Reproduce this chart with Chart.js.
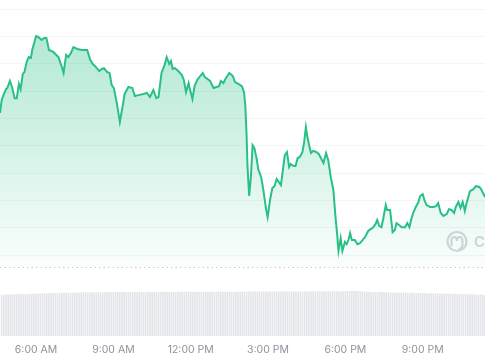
<!DOCTYPE html>
<html>
<head>
<meta charset="utf-8">
<title>Price chart</title>
<script src="https://cdn.jsdelivr.net/npm/chart.js@4.4.1/dist/chart.umd.min.js"></script>
<style>
    html, body { margin: 0; padding: 0; background: #ffffff; }
    #chart_wrapper { position: relative; width: 485px; height: 360px; }
</style>
</head>
<body>
<div id="chart_wrapper"><canvas id="chart"></canvas></div>
<script>
/*jslint browser: true*/
/*global Chart*/

// price line: minutes since midnight / price (grid units)
var priceTimes = [276, 280, 284, 290, 293, 299, 304, 310, 315, 320, 324, 329, 333, 338, 343, 348, 351, 360, 365, 373,
    379, 384, 390, 400, 412, 420, 424, 430, 435, 441, 447, 456, 466, 479, 486, 492, 497, 507, 513, 518,
    525, 531, 536, 541, 548, 555, 562, 566, 575, 584, 590, 598, 610, 618, 625, 633, 640, 645, 652, 659,
    664, 670, 674, 678, 683, 691, 699, 704, 709, 715, 718, 724, 729, 735, 742, 748, 753, 765, 773, 780,
    786, 790, 796, 802, 810, 818, 823, 831, 839, 844, 847, 850, 852, 856, 860, 864, 868, 874, 877, 884,
    889, 895, 899, 905, 910, 915, 920, 925, 930, 935, 939, 944, 949, 953, 959, 964, 969, 974, 980, 984,
    988, 992, 996, 1000, 1005, 1012, 1018, 1023, 1029, 1035, 1040, 1046, 1052, 1057, 1061, 1064, 1069, 1073, 1079, 1083,
    1087, 1091, 1095, 1102, 1108, 1114, 1120, 1126, 1133, 1139, 1145, 1150, 1154, 1159, 1164, 1168, 1174, 1177, 1184, 1190,
    1195, 1199, 1205, 1211, 1219, 1224, 1229, 1234, 1238, 1244, 1250, 1254, 1260, 1264, 1269, 1277, 1285, 1291, 1296, 1302,
    1308, 1316, 1321, 1327, 1333, 1337, 1343, 1348, 1353, 1358, 1362, 1370, 1378, 1384, 1392, 1397, 1405];

var priceValues = [5.20, 5.67, 5.85, 6.07, 6.11, 6.37, 6.15, 5.74, 5.74, 6.26, 6.07, 6.62, 6.70, 7.06, 7.24, 7.21, 7.50, 8.01, 7.98, 7.87,
    7.94, 7.94, 7.50, 7.43, 7.24, 6.88, 6.66, 7.32, 7.24, 7.39, 7.61, 7.54, 7.50, 7.50, 7.14, 6.99, 6.92, 6.73, 6.81, 6.84,
    6.70, 6.66, 6.22, 6.11, 5.56, 4.87, 5.49, 5.89, 6.15, 6.11, 5.82, 5.85, 5.89, 5.93, 5.78, 6.04, 5.74, 5.78, 6.66, 6.95,
    7.24, 6.99, 7.10, 6.81, 6.84, 6.73, 6.59, 6.40, 5.96, 6.29, 6.07, 5.71, 6.18, 6.40, 6.55, 6.66, 6.51, 6.37, 6.11, 6.15,
    6.18, 6.37, 6.29, 6.48, 6.66, 6.55, 6.33, 6.26, 6.18, 5.96, 5.49, 4.39, 3.29, 2.16, 2.85, 4.02, 3.92, 3.48, 3.15, 2.85,
    2.38, 1.72, 1.39, 2.05, 2.45, 2.52, 2.78, 2.67, 2.56, 3.18, 3.66, 3.77, 3.22, 3.33, 3.26, 3.26, 3.55, 3.59, 3.77, 4.13,
    4.68, 4.28, 3.99, 3.73, 3.81, 3.77, 3.70, 3.55, 3.37, 3.73, 3.48, 2.85, 2.38, 1.39, 0.73, 0.15, 0.62, 0.15, 0.48, 0.40,
    0.55, 0.80, 0.55, 0.55, 0.40, 0.44, 0.55, 0.66, 0.88, 0.95, 1.02, 1.13, 1.28, 1.06, 1.02, 1.32, 1.83, 1.65, 1.65, 0.84,
    0.91, 1.17, 1.10, 1.02, 1.02, 1.17, 1.02, 1.35, 1.54, 1.76, 1.94, 2.16, 2.23, 2.01, 1.83, 1.76, 1.76, 1.79, 1.90, 1.54,
    1.43, 1.50, 1.68, 1.65, 1.54, 1.76, 1.94, 1.72, 1.94, 1.61, 1.90, 2.34, 2.41, 2.52, 2.49, 2.38, 2.12];

// volume bars, one every 5 minutes from 4:40 AM
var volumeStart = 280;
var volumeStep = 5;
var volumeValues = [20.5, 20.5, 20.6, 20.6, 20.6, 20.7, 20.7, 20.7, 20.8, 20.8, 20.8, 20.9, 20.9, 20.9, 21.0, 21.0,
    21.0, 21.1, 21.1, 21.1, 21.2, 21.2, 21.2, 21.3, 21.3, 21.3, 21.4, 21.4, 21.4, 21.5, 21.5, 21.5, 21.5, 21.6, 21.6, 21.6, 21.6, 21.7, 21.7,
    21.7, 21.7, 21.7, 21.7, 21.7, 21.7, 21.7, 21.7, 21.7, 21.7,
    21.8, 21.8, 21.8, 21.8, 21.8, 21.8, 21.8, 21.8, 21.8, 21.8, 21.8, 21.8, 21.8, 21.8, 21.8,
    21.9, 21.9, 21.9, 21.9, 21.9, 21.9, 21.9, 21.9, 21.9, 21.9,
    21.9, 21.9, 21.9, 21.9, 21.9, 21.9, 21.9, 21.9, 21.9, 21.9,
    22.0, 22.0, 22.0, 22.0, 22.0, 22.0, 22.0, 22.0, 22.0, 22.0, 22.0, 22.0, 22.0, 22.0, 22.0,
    22.0, 22.0, 22.0, 22.0, 22.0, 22.0, 22.0, 22.0, 22.0, 22.0, 22.0, 22.0, 22.0, 22.0, 22.0,
    22.1, 22.1, 22.1, 22.1, 22.1, 22.1, 22.1, 22.1, 22.1, 22.1, 22.1, 22.1, 22.1, 22.1, 22.1,
    22.1, 22.1, 22.1, 22.1, 22.1, 22.1, 22.1, 22.1, 22.1, 22.1, 22.1, 22.1, 22.1, 22.1, 22.1,
    22.2, 22.2, 22.2, 22.2, 22.2, 22.2, 22.2,
    22.2, 22.2, 22.2, 22.2, 22.2, 22.2, 22.2, 22.2, 22.3, 22.3, 22.3, 22.3, 22.3, 22.3, 22.3, 22.3,
    22.2, 22.1, 22.0, 21.9, 21.9, 21.8, 21.8, 21.8, 21.8, 21.8,
    21.7, 21.7, 21.7, 21.7, 21.6, 21.6, 21.6, 21.6, 21.5, 21.5, 21.5, 21.5, 21.4, 21.4, 21.4, 21.4, 21.3, 21.3, 21.3, 21.3, 21.3, 21.2, 21.2,
    21.2, 21.2, 21.1, 21.1, 21.1, 21.0, 21.0, 21.0, 21.0, 20.9, 20.9, 20.9, 20.8, 20.8, 20.8, 20.8, 20.7, 20.7, 20.7, 20.7, 20.6, 20.6, 20.6, 20.6, 20.5, 20.5];

var gridValues = [0, 1, 2, 3, 4, 5, 6, 7, 8, 9];
var tickMinutes = [360, 540, 720, 900, 1080, 1260];

var timeMin = 276;
var timeMax = 1405;
var priceMin = -2.96;
var priceMax = 9.33;
var paneBottom = -0.44;
var volumeMax = 168;

var lineColor = "#29c086";

function timeLabel(minutes) {
    "use strict";
    var h = Math.floor(minutes / 60),
        m = minutes % 60,
        suffix = h >= 12 ? "PM" : "AM",
        h12 = h % 12 || 12;
    return h12 + ":" + (m < 10 ? "0" : "") + m + " " + suffix;
}

function fillGradient(context) {
    "use strict";
    var chart = context.chart,
        area = chart.chartArea,
        bottom,
        g;
    if (!area) {
        return "rgba(41, 192, 134, 0.15)";
    }
    bottom = chart.scales.y.getPixelForValue(paneBottom);
    g = chart.ctx.createLinearGradient(0, area.top, 0, bottom);
    g.addColorStop(0, "rgba(41, 192, 134, 0.40)");
    g.addColorStop(0.5, "rgba(41, 192, 134, 0.22)");
    g.addColorStop(1, "rgba(41, 192, 134, 0.02)");
    return g;
}

// dotted divider between price and volume, plus the faint watermark
var paneDivider = {
    id: "paneDivider",
    beforeDatasetsDraw: function (chart) {
        "use strict";
        var ctx = chart.ctx,
            area = chart.chartArea,
            y = Math.round(chart.scales.y.getPixelForValue(paneBottom)) + 0.5,
            cx = area.right - 28,
            cy = y - 26;

        ctx.save();
        ctx.setLineDash([1.5, 3]);
        ctx.strokeStyle = "#c6cad1";
        ctx.lineWidth = 1;
        ctx.beginPath();
        ctx.moveTo(area.left, y);
        ctx.lineTo(area.right, y);
        ctx.stroke();

        ctx.setLineDash([]);
        ctx.strokeStyle = "#d4d7dc";
        ctx.lineWidth = 2.2;
        ctx.beginPath();
        ctx.arc(cx, cy, 9.5, 0, Math.PI * 2);
        ctx.stroke();
        ctx.beginPath();
        ctx.moveTo(cx - 5.5, cy + 5);
        ctx.lineTo(cx - 5.5, cy - 0.5);
        ctx.quadraticCurveTo(cx - 5.5, cy - 4.5, cx - 2.7, cy - 4.5);
        ctx.quadraticCurveTo(cx, cy - 4.5, cx, cy - 0.5);
        ctx.quadraticCurveTo(cx, cy - 4.5, cx + 2.7, cy - 4.5);
        ctx.quadraticCurveTo(cx + 5.5, cy - 4.5, cx + 5.5, cy);
        ctx.lineTo(cx + 5.5, cy + 3);
        ctx.quadraticCurveTo(cx + 5.5, cy + 7.5, cx + 1, cy + 8);
        ctx.stroke();

        ctx.fillStyle = "#d4d7dc";
        ctx.font = "600 15px Inter";
        ctx.textBaseline = "middle";
        ctx.fillText("CoinGecko", cx + 17, cy + 1);
        ctx.restore();
    }
};

var lineData = priceTimes.map(function (t, i) {
    "use strict";
    return {x: t, y: priceValues[i]};
});

var volumeData = volumeValues.map(function (v, i) {
    "use strict";
    return {x: volumeStart + i * volumeStep, y: v};
});

var options = {
    responsive: true,
    maintainAspectRatio: false,
    animation: false,
    layout: {padding: 0},
    plugins: {
        legend: {display: false},
        tooltip: {enabled: false}
    },
    scales: {
        x: {
            type: "linear",
            min: timeMin,
            max: timeMax,
            offset: false,
            afterBuildTicks: function (axis) {
                "use strict";
                axis.ticks = tickMinutes.map(function (v) {
                    return {value: v};
                });
            },
            afterFit: function (axis) {
                "use strict";
                axis.height = 24;
            },
            grid: {display: false, drawTicks: false},
            border: {display: false},
            ticks: {
                autoSkip: false,
                maxRotation: 0,
                padding: 8,
                color: "#8e939c",
                font: {family: "Inter", size: 10.5},
                callback: function (v) {
                    "use strict";
                    return timeLabel(v);
                }
            }
        },
        y: {
            type: "linear",
            min: priceMin,
            max: priceMax,
            afterBuildTicks: function (axis) {
                "use strict";
                axis.ticks = gridValues.map(function (v) {
                    return {value: v};
                });
            },
            grid: {color: "rgba(0, 0, 0, 0.04)", drawTicks: false},
            border: {display: false},
            ticks: {display: false}
        },
        yv: {
            type: "linear",
            display: false,
            min: 0,
            max: volumeMax
        }
    }
};

window.addEventListener("load", function () {
    "use strict";
    var ctx = document.getElementById("chart").getContext("2d");
    var chart = new Chart(ctx, {
        type: "line",
        data: {
            datasets: [
                {
                    type: "line",
                    label: "Price",
                    data: lineData,
                    yAxisID: "y",
                    borderColor: lineColor,
                    borderWidth: 2,
                    pointRadius: 0,
                    tension: 0,
                    fill: {value: paneBottom},
                    backgroundColor: fillGradient,
                    order: 0
                },
                {
                    type: "bar",
                    label: "Volume",
                    data: volumeData,
                    yAxisID: "yv",
                    backgroundColor: "#e3e5ea",
                    borderWidth: 0,
                    barThickness: 1,
                    order: 1
                }
            ]
        },
        options: options,
        plugins: [paneDivider]
    });
    return chart;
});
</script>
</body>
</html>
